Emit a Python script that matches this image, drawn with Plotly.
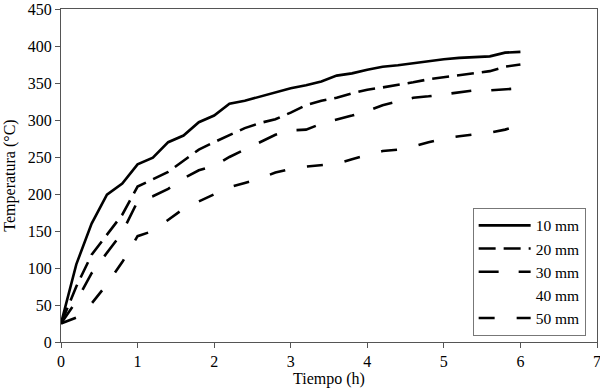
import plotly.graph_objects as go

tiempo = [0.0, 0.2, 0.4, 0.6, 0.8, 1.0, 1.2, 1.4, 1.6, 1.8, 2.0, 2.2, 2.4, 2.6, 2.8, 3.0,
          3.2, 3.4, 3.6, 3.8, 4.0, 4.2, 4.4, 4.6, 4.8, 5.0, 5.2, 5.4, 5.6, 5.8, 6.0]

t_10mm = [25, 105, 160, 199, 214, 240, 249, 270, 279, 297, 306, 322, 326, 332, 338, 343,
          347, 352, 360, 363, 368, 372, 374, 377, 380, 382, 384, 385, 386, 391, 392]
t_20mm = [25, 75, 118, 145, 172, 210, 220, 230, 245, 260, 270, 279, 289, 296, 301, 310,
          320, 326, 330, 336, 341, 344, 347, 351, 355, 358, 361, 363, 366, 372, 375]
t_30mm = [25, 55, 93, 120, 148, 190, 197, 207, 221, 232, 238, 250, 260, 270, 280, 286,
          287, 295, 300, 306, 312, 320, 325, 330, 332, 335, 338, 340, 340, 341, 343]
t_40mm = [None]
t_50mm = [25, 33, 52, 78, 108, 143, 150, 165, 180, 190, 200, 209, 215, 221, 229, 234,
          237, 239, 241, 247, 253, 258, 260, 264, 270, 275, 278, 280, 283, 287, 293]

series = [
    ("10 mm", t_10mm, "solid", "black"),
    ("20 mm", t_20mm, "17px,8px", "black"),
    ("30 mm", t_30mm, "20px,20px", "black"),
    ("40 mm", t_40mm, "solid", "rgba(0,0,0,0)"),
    ("50 mm", t_50mm, "16px,22px", "black"),
]

fig = go.Figure()
for name, vals, dash, color in series:
    fig.add_trace(go.Scatter(
        x=tiempo[:len(vals)], y=vals, mode="lines", name=name,
        line=dict(color=color, width=2.6, dash=dash),
        showlegend=True,
    ))

font = "Liberation Serif, Times New Roman, serif"
axis_common = dict(
    showgrid=False, zeroline=False, showline=True, linecolor="#555555", linewidth=1.2,
    mirror=True, ticks="outside", ticklen=5, tickcolor="#555555", tickwidth=1,
    tickfont=dict(family=font, size=16, color="black"),
    ticklabeloverflow="allow", automargin=False,
)
fig.update_layout(
    width=600, height=389,
    margin=dict(l=61, r=3, t=9, b=47, autoexpand=False),
    paper_bgcolor="white", plot_bgcolor="white",
    font=dict(family=font, size=16, color="black"),
    showlegend=True,
    legend=dict(
        x=0.768, y=0.403, xanchor="left", yanchor="top",
        bgcolor="white", bordercolor="#777777", borderwidth=1,
        font=dict(family=font, size=15.5, color="black"),
        tracegroupgap=0, itemwidth=52,
    ),
    xaxis=dict(range=[0, 7], dtick=1, tick0=0,
               title=dict(text="Tiempo (h)", standoff=1,
                          font=dict(family=font, size=16)),
               **axis_common),
    yaxis=dict(range=[0, 450], tickvals=[0, 50, 100, 150, 200, 250, 300, 350, 400, 450],
               title=dict(text="Temperatura (°C)", standoff=8,
                          font=dict(family=font, size=16)),
               **axis_common),
)

fig.write_html("out.html")
